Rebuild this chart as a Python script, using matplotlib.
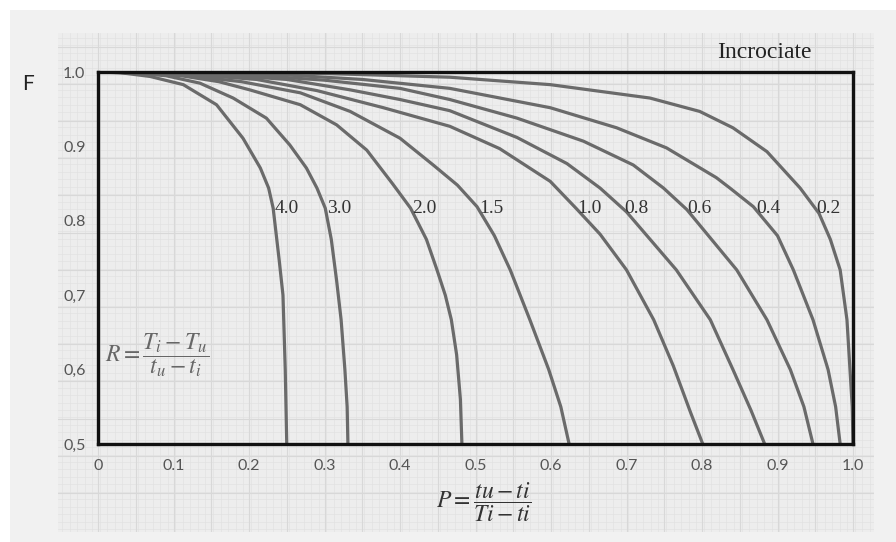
import numpy as np
from matplotlib import pyplot as plt

plt.rcParams['mathtext.fontset'] = 'stix'

# correction factor F vs P for each R (crossflow)
r_labels = ["4.0", "3.0", "2.0", "1.5", "1.0", "0.8", "0.6", "0.4", "0.2"]

p_40 = [0, 0.03, 0.069, 0.113, 0.157, 0.192, 0.215, 0.226, 0.232, 0.240, 0.245, 0.248, 0.250]
f_40 = [1.0, 0.999, 0.994, 0.983, 0.956, 0.911, 0.871, 0.844, 0.817, 0.747, 0.70, 0.60, 0.50]

p_30 = [0, 0.04, 0.09, 0.135, 0.179, 0.223, 0.254, 0.276, 0.290, 0.301, 0.309, 0.316, 0.322, 0.327, 0.330, 0.331]
f_30 = [1.0, 0.999, 0.995, 0.985, 0.965, 0.938, 0.902, 0.871, 0.844, 0.817, 0.775, 0.72, 0.667, 0.60, 0.55, 0.50]

p_20 = [0, 0.05, 0.11, 0.16, 0.201, 0.268, 0.316, 0.356, 0.390, 0.414, 0.435, 0.449, 0.460, 0.468, 0.475, 0.480, 0.482]
f_20 = [1.0, 0.999, 0.995, 0.987, 0.976, 0.956, 0.929, 0.895, 0.850, 0.817, 0.775, 0.734, 0.70, 0.667, 0.620, 0.560, 0.50]

p_15 = [0, 0.05, 0.12, 0.19, 0.268, 0.334, 0.400, 0.444, 0.476, 0.502, 0.525, 0.546, 0.572, 0.597, 0.613, 0.624]
f_15 = [1.0, 0.999, 0.995, 0.987, 0.972, 0.947, 0.911, 0.875, 0.848, 0.819, 0.780, 0.734, 0.667, 0.600, 0.55, 0.50]

p_10 = [0, 0.06, 0.13, 0.21, 0.29, 0.378, 0.466, 0.532, 0.599, 0.633, 0.665, 0.700, 0.736, 0.762, 0.785, 0.801]
f_10 = [1.0, 0.999, 0.996, 0.990, 0.975, 0.952, 0.927, 0.897, 0.853, 0.817, 0.782, 0.734, 0.667, 0.605, 0.542, 0.50]

p_08 = [0, 0.07, 0.15, 0.25, 0.334, 0.400, 0.466, 0.555, 0.621, 0.665, 0.700, 0.766, 0.811, 0.841, 0.865, 0.883]
f_08 = [1.0, 0.999, 0.997, 0.990, 0.976, 0.963, 0.948, 0.912, 0.877, 0.844, 0.812, 0.734, 0.667, 0.600, 0.545, 0.50]

p_06 = [0, 0.10, 0.20, 0.30, 0.40, 0.466, 0.555, 0.643, 0.709, 0.749, 0.780, 0.846, 0.886, 0.917, 0.935, 0.947]
f_06 = [1.0, 0.999, 0.996, 0.989, 0.978, 0.963, 0.938, 0.907, 0.875, 0.844, 0.815, 0.734, 0.667, 0.600, 0.55, 0.50]

p_04 = [0, 0.12, 0.25, 0.35, 0.466, 0.599, 0.687, 0.753, 0.819, 0.837, 0.868, 0.900, 0.921, 0.947, 0.967, 0.977, 0.983]
f_04 = [1.0, 0.999, 0.996, 0.990, 0.978, 0.952, 0.925, 0.898, 0.858, 0.844, 0.819, 0.780, 0.734, 0.667, 0.600, 0.55, 0.50]

p_02 = [0, 0.15, 0.30, 0.466, 0.599, 0.731, 0.797, 0.841, 0.886, 0.930, 0.955, 0.970, 0.983, 0.992, 0.996, 0.999, 1.0]
f_02 = [1.0, 1.0, 0.998, 0.993, 0.983, 0.965, 0.947, 0.925, 0.893, 0.844, 0.810, 0.775, 0.734, 0.667, 0.600, 0.55, 0.50]

curves_p = [p_40, p_30, p_20, p_15, p_10, p_08, p_06, p_04, p_02]
curves_f = [f_40, f_30, f_20, f_15, f_10, f_08, f_06, f_04, f_02]

x_ticks = [0, 0.1, 0.2, 0.3, 0.4, 0.5, 0.6, 0.7, 0.8, 0.9, 1.0]
x_ticklabels = ["0", "0.1", "0.2", "0.3", "0.4", "0.5", "0.6", "0.7", "0.8", "0.9", "1.0"]
y_ticks = [0.5, 0.6, 0.7, 0.8, 0.9, 1.0]
y_ticklabels = ["0,5", "0,6", "0,7", "0.8", "0.9", "1.0"]

W, H = 896, 542
fig = plt.figure(figsize=(W / 100, H / 100), dpi=100, facecolor="white")

# grey page and graph-paper backdrop
page = fig.add_axes([10 / W, 0, 1 - 10 / W, 1 - 10 / H])
page.set_facecolor("#f1f1f1")
page.set_xticks([])
page.set_yticks([])
for s in page.spines.values():
    s.set_visible(False)

paper = fig.add_axes([58 / W, 1 - 532 / H, (874 - 58) / W, (532 - 33) / H])
paper.set_facecolor("#ededed")
paper.set_xlim(0, 874 - 58)
paper.set_ylim(0, 532 - 33)
for gx in np.arange(4, 874 - 58, 7.55):
    paper.axvline(gx, color="#e2e2e2", lw=0.5)
for gy in np.arange(3, 532 - 33, 7.44):
    paper.axhline(gy, color="#e2e2e2", lw=0.5)
for gx in np.arange(40, 874 - 58, 37.75):
    paper.axvline(gx, color="#d8d8d8", lw=0.8)
for gy in np.arange(39, 532 - 33, 37.2):
    paper.axhline(gy, color="#d8d8d8", lw=0.8)
paper.set_xticks([])
paper.set_yticks([])
for s in paper.spines.values():
    s.set_visible(False)

ax = fig.add_axes([98 / W, 1 - 444 / H, (853 - 98) / W, (444 - 72) / H])
ax.set_facecolor("none")
ax.set_xlim(0, 1)
ax.set_ylim(0.5, 1.0)

for p, f, lab in zip(curves_p, curves_f, r_labels):
    ax.plot(p, f, color="#6a6a6a", lw=2.3, solid_joinstyle="round",
            solid_capstyle="round", zorder=3)
    # label sits just right of where the curve crosses F ~ 0.817
    px = np.interp(0.817, f[::-1], p[::-1])
    ax.text(px + 0.002, 0.817, lab, family="Liberation Serif", fontsize=14,
            color="#333333", ha="left", va="center", zorder=4)

for s in ax.spines.values():
    s.set_color("#111111")
    s.set_linewidth(2.4)
    s.set_zorder(5)

ax.set_xticks(x_ticks)
ax.set_xticklabels(x_ticklabels, family="Lato", fontsize=11.5, color="#555555")
ax.set_yticks(y_ticks)
ax.set_yticklabels(y_ticklabels, family="Lato", fontsize=11.5, color="#555555")
ax.tick_params(length=0, pad=9)
ax.tick_params(axis="x", pad=11)

fig.text(22 / W, 1 - 90 / H, "F", family="Lato", fontsize=15, color="#222222")
fig.text(812 / W, 1 - 52 / H, "Incrociate", family="Liberation Serif",
         fontsize=17, color="#222222", ha="right", va="center")
ax.text(0.009, 0.62, r"$R = \dfrac{T_i - T_u}{t_u - t_i}$", fontsize=17,
        color="#666666", ha="left", va="center", zorder=4)
fig.text(484 / W, 1 - 502 / H, r"$P = \dfrac{tu - ti}{Ti - ti}$", fontsize=17,
         color="#333333", ha="center", va="center")

fig.savefig("out.png", dpi=100, facecolor=fig.get_facecolor())
